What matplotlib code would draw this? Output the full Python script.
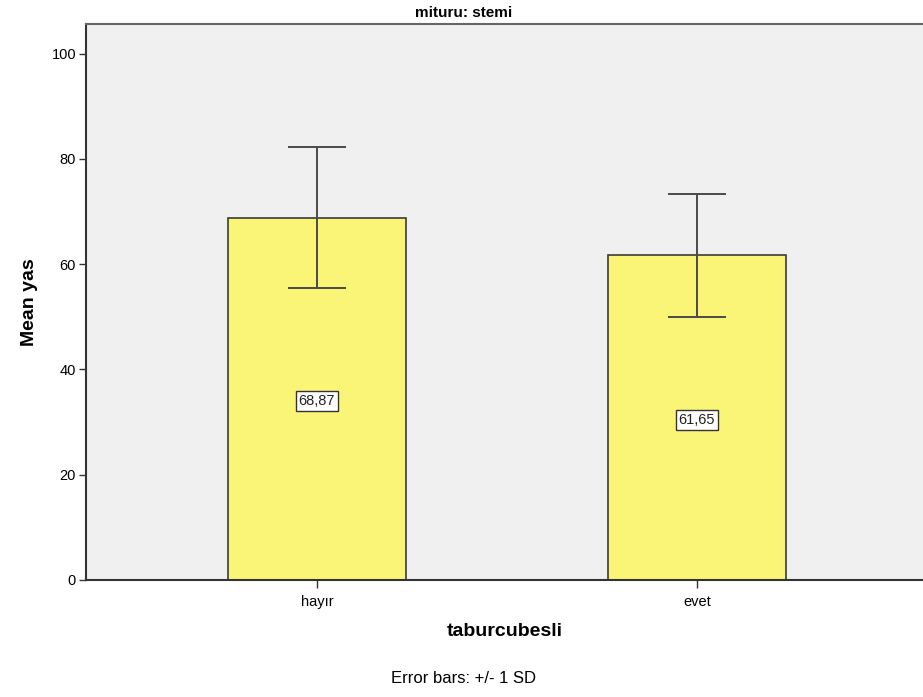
import matplotlib
matplotlib.use("Agg")
import matplotlib.pyplot as plt
import numpy as np

plt.rcParams["font.family"] = ["Liberation Sans", "DejaVu Sans"]

# data
categories = ["hayır", "evet"]
means = [68.87, 61.65]
sds = [13.4, 11.7]
mean_labels = ["68,87", "61,65"]
y_ticks = [0, 20, 40, 60, 80, 100]

fig = plt.figure(figsize=(9.23, 6.97), dpi=100)
ax = fig.add_axes([0.093, 0.168, 0.907, 0.798])
ax.set_facecolor("#F0F0F0")

x = np.arange(len(categories))
ax.bar(x, means, width=0.468, color="#FAF577", edgecolor="#3a3a3a",
       linewidth=1.2, zorder=2)
ax.errorbar(x, means, yerr=sds, fmt="none", ecolor="#4a4a4a",
            elinewidth=1.4, capsize=21, capthick=1.4, zorder=3)

for xi, m, lab in zip(x, means, mean_labels):
    ax.text(xi, m / 2 - 0.4, lab, ha="center", va="center", fontsize=10.5,
            color="#222222", zorder=4,
            bbox=dict(boxstyle="square,pad=0.2", fc="white", ec="#333333", lw=1))

ax.set_xlim(-0.608, 1.595)
ax.set_ylim(0, 105.7)
ax.set_xticks(x)
ax.set_xticklabels(categories, fontsize=10.5)
ax.set_yticks(y_ticks)
ax.set_yticklabels([str(t) for t in y_ticks], fontsize=10.5)
ax.tick_params(axis="y", length=5, width=1, color="#333333", pad=2)
ax.tick_params(axis="x", length=6, width=1, color="#333333", pad=5)

for side in ["left", "bottom"]:
    ax.spines[side].set_color("#333333")
    ax.spines[side].set_linewidth(1.5)
ax.spines["top"].set_color("#666666")
ax.spines["top"].set_linewidth(1.5)
ax.spines["right"].set_visible(False)

ax.set_ylabel("Mean yas", fontsize=14, fontweight="bold", labelpad=10)
ax.set_xlabel("taburcubesli", fontsize=14, fontweight="bold", labelpad=10)
fig.text(0.5025, 0.982, "mituru: stemi", ha="center", va="center",
         fontsize=11, fontweight="bold")
fig.text(0.5025, 0.026, "Error bars: +/- 1 SD", ha="center", va="center",
         fontsize=12)

fig.savefig("out.png", dpi=100)
